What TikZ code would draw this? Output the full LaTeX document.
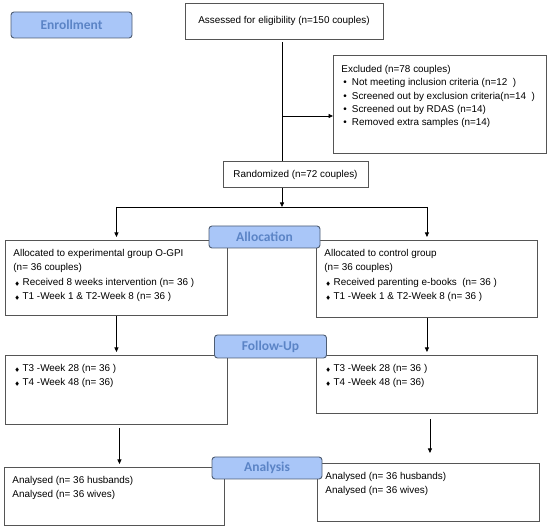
\documentclass[tikz,border=0pt]{standalone}
\usepackage{fontspec}
\usepackage{amssymb}
\usepackage{tikz}
\usetikzlibrary{arrows.meta,calc}
\setmainfont{Liberation Sans}
\newfontfamily\labelfont{Carlito}
\definecolor{labelfill}{HTML}{A9C6F8}
\definecolor{labeltext}{HTML}{5B84C6}
\definecolor{labelline}{HTML}{4E5D73}
\definecolor{boxline}{HTML}{555555}

% top-aligned text of a fixed box: width, height, text
\newcommand{\boxtext}[3]{\parbox[c][\dimexpr#2pt-18pt\relax][t]{\dimexpr#1pt-16pt\relax}{#3}}
\newcommand{\dmd}{\hspace*{1.5pt}{\fontsize{5}{5}\selectfont$\blacklozenge$}\hspace{3pt}}
\newcommand{\dotitem}{\hspace*{2pt}\textbullet\hspace{5pt}}

\begin{document}
\begin{tikzpicture}[x=1pt, y=-1pt, >={Triangle[length=4.5pt,width=4pt]},
    flowbox/.style={draw=boxline, line width=0.9pt, anchor=north west,
        inner xsep=8pt, inner ysep=9pt, font=\fontsize{9.9}{14.3}\selectfont},
    centrebox/.style={draw=boxline, line width=0.9pt, inner sep=0pt,
        font=\fontsize{9.9}{14.3}\selectfont},
    stage/.style={draw=labelline, line width=0.9pt, fill=labelfill, rounded corners=3pt,
        inner sep=0pt, text=labeltext, font=\labelfont\bfseries\fontsize{13.5}{13.5}\selectfont},
    link/.style={line width=0.8pt}]
    \useasboundingbox (0,0) rectangle (550,532);

    % Enrollment
    \node[centrebox, minimum width=198, minimum height=36] (assess) at (284,21)
        {Assessed for eligibility (n=150 couples)};
    \node[flowbox, inner ysep=10pt, font=\fontsize{9.9}{13.3}\selectfont] (excl) at (333,55)
        {\boxtext{213}{96}{Excluded (n=78 couples)\\
        \dotitem Not meeting inclusion criteria (n=12~~)\\
        \dotitem Screened out by exclusion criteria(n=14~~)\\
        \dotitem Screened out by RDAS (n=14)\\
        \dotitem Removed extra samples (n=14)}};
    \node[centrebox, minimum width=145, minimum height=26] (rand) at (295.5,174.5)
        {Randomized (n=72 couples)};

    % Allocation
    \node[flowbox] (allocL) at (5,240)
        {\boxtext{222}{75}{Allocated to experimental group O-GPI\\
        (n= 36 couples)\\
        \dmd Received 8 weeks intervention (n= 36 )\\
        \dmd T1 -Week 1 \& T2-Week 8 (n= 36 )}};
    \node[flowbox] (allocR) at (316,240)
        {\boxtext{221}{77}{Allocated to control group\\
        (n= 36 couples)\\
        \dmd Received parenting e-books~ (n= 36 )\\
        \dmd T1 -Week 1 \& T2-Week 8 (n= 36 )}};

    % Follow-Up
    \node[flowbox] (followL) at (5,355)
        {\boxtext{222}{69}{\dmd T3 -Week 28 (n= 36 )\\
        \dmd T4 -Week 48 (n= 36)}};
    \node[flowbox] (followR) at (316,355)
        {\boxtext{221}{58}{\dmd T3 -Week 28 (n= 36 )\\
        \dmd T4 -Week 48 (n= 36)}};

    % Analysis
    \node[flowbox] (anaL) at (4,467)
        {\boxtext{220}{58}{Analysed (n= 36 husbands)\\
        Analysed (n= 36 wives)}};
    \node[flowbox] (anaR) at (317,463)
        {\boxtext{222}{58}{Analysed (n= 36 husbands)\\
        Analysed (n= 36 wives)}};

    % connectors
    \coordinate (branch) at (282,116);
    \coordinate (split) at (282,207);
    \draw[link, shorten <=3pt] (assess.south -| branch) -- (rand.north -| branch);
    \draw[link, ->] (branch) -- (branch -| excl.west);
    \draw[link, ->] (rand.south -| split) -- (split);
    \draw[link] (split -| allocL.north) -- (split -| allocR.north);
    \draw[link, ->, shorten >=3pt] (split -| allocL.north) -- (allocL.north);
    \draw[link, ->, shorten >=3pt] (split -| allocR.north) -- (allocR.north);
    \draw[link, ->, shorten >=3pt] (allocL.south) -- (followL.north);
    \draw[link, ->, shorten >=3pt] (allocR.south) -- (followR.north);
    \draw[link, ->, shorten <=3pt, shorten >=3pt]
        ([xshift=3pt]followL.south) -- ([xshift=3pt]followL.south |- anaL.north);
    \draw[link, ->, shorten <=5pt, shorten >=10pt]
        ([xshift=3pt]followR.south) -- ([xshift=3pt]followR.south |- anaR.north);

    % stage labels
    \node[stage, minimum width=121, minimum height=26] (enrol) at (71.5,25) {Enrollment};
    \node[stage, minimum width=111, minimum height=22] (allocation) at (264.5,237) {Allocation};
    \node[stage, minimum width=112, minimum height=23] (followup) at (270.5,346.5) {Follow-Up};
    \node[stage, minimum width=110, minimum height=22] (analysis) at (267,468) {Analysis};
\end{tikzpicture}
\end{document}
